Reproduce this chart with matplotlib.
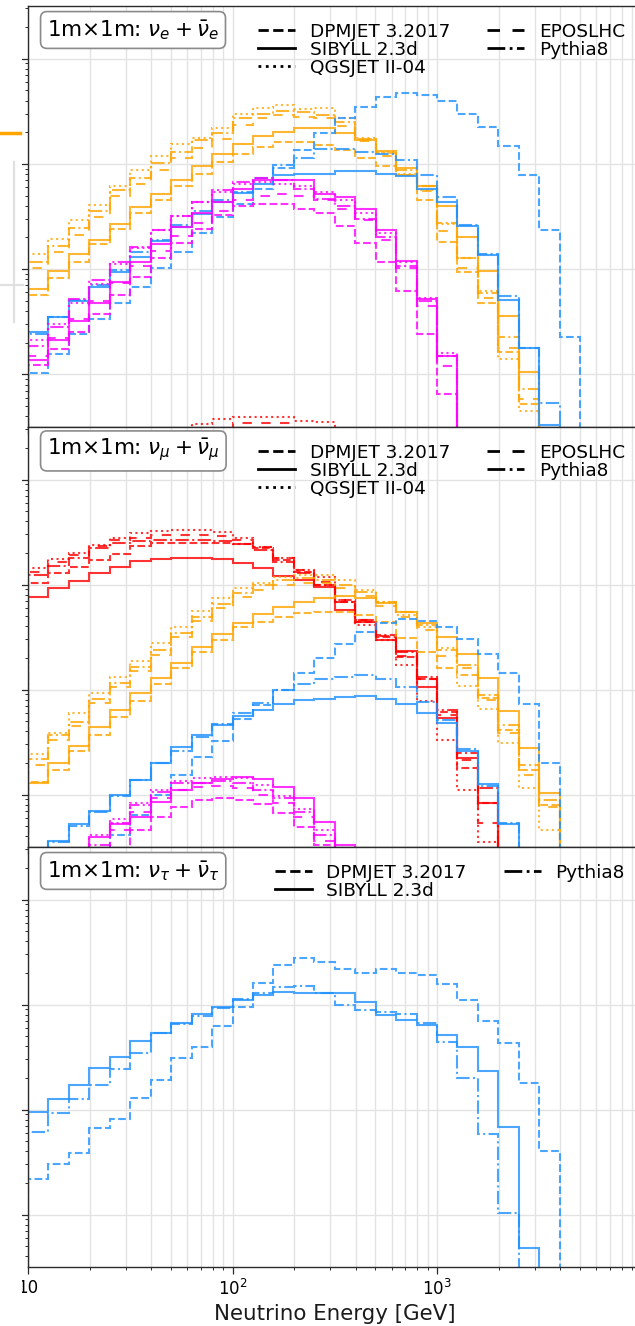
import numpy as np
import matplotlib
matplotlib.use("Agg")
import matplotlib.pyplot as plt
from matplotlib.lines import Line2D
from matplotlib.patches import Rectangle

# Energy binning: ten logarithmic bins per decade, 10 GeV - 10 TeV
bin_edges = np.logspace(1, 4, 31)

generators = ["DPMJET 3.2017", "SIBYLL 2.3d", "QGSJET II-04", "EPOSLHC", "Pythia8"]
line_styles = {
    "DPMJET 3.2017": (0, (3.7, 1.6)),
    "SIBYLL 2.3d": "-",
    "QGSJET II-04": (0, (1.0, 1.65)),
    "EPOSLHC": (0, (4.5, 4.5)),
    "Pythia8": (0, (6.4, 1.6, 1.0, 1.6)),
}
parent_colors = {"pion": "#ff0000", "kaon": "#ffa500",
                 "charm": "#1e90ff", "hyperon": "#ff00ff"}

# Each entry: (first filled bin, per-bin neutrino yield)
# ---------------- nu_e + nu_e-bar ----------------
nue_kaon = {
    "DPMJET 3.2017": (0, [5.7e5, 8.2e5, 1.18e6, 1.73e6, 2.4e6, 3.45e6, 4.5e6, 6.1e6, 8.1e6, 1.04e7,
                          1.24e7, 1.45e7, 1.6e7, 1.6e7, 1.5e7, 1.35e7, 1.13e7, 9.5e6, 7.9e6, 4.5e6,
                          1.8e6, 9.3e5, 4.8e5, 1.64e5, 5.2e4]),
    "SIBYLL 2.3d": (0, [6.5e5, 9.5e5, 1.4e6, 1.9e6, 2.7e6, 3.9e6, 5.2e6, 7.1e6, 9.5e6, 1.23e7,
                        1.55e7, 1.85e7, 2.0e7, 2.2e7, 2.2e7, 1.95e7, 1.7e7, 1.32e7, 9.1e6, 6.2e6,
                        4.0e6, 2.0e6, 9.5e5, 3.6e5, 1.06e5]),
    "QGSJET II-04": (0, [1.4e6, 1.95e6, 2.9e6, 4.1e6, 6.2e6, 8.7e6, 1.18e7, 1.55e7, 1.76e7, 2.2e7,
                         3.0e7, 3.4e7, 3.6e7, 3.35e7, 3.4e7, 2.7e7, 1.76e7, 1.3e7, 8.1e6, 5.6e6,
                         2.7e6, 1.27e6, 6.2e5, 1.4e5, 4.5e4]),
    "EPOSLHC": (0, [1.02e6, 1.45e6, 2.1e6, 3.16e6, 4.9e6, 6.4e6, 8.8e6, 1.13e7, 1.4e7, 1.73e7,
                    2.35e7, 2.7e7, 2.9e7, 2.8e7, 2.7e7, 2.3e7, 1.64e7, 1.18e7, 7.9e6, 5.5e6,
                    2.3e6, 1.02e6, 5.3e5, 1.8e5, 5.8e4]),
    "Pythia8": (0, [1.16e6, 1.67e6, 2.45e6, 3.6e6, 5.6e6, 7.3e6, 1.02e7, 1.3e7, 1.67e7, 1.96e7,
                    2.7e7, 3.0e7, 3.2e7, 3.1e7, 2.9e7, 2.5e7, 1.73e7, 1.27e7, 8.7e6, 6.2e6,
                    2.75e6, 1.27e6, 5.9e5, 2.25e5, 7.3e4]),
}
nue_charm = {
    "DPMJET 3.2017": (0, [1.04e5, 1.57e5, 2.4e5, 3.35e5, 4.8e5, 6.8e5, 1.02e6, 1.45e6, 2.2e6, 3.16e6,
                          4.2e6, 5.8e6, 9.1e6, 1.35e7, 1.96e7, 2.7e7, 3.5e7, 4.3e7, 4.7e7, 4.5e7,
                          3.95e7, 3.0e7, 2.25e7, 1.47e7, 7.8e6, 2.35e6, 2.25e5]),
    "SIBYLL 2.3d": (0, [2.55e5, 3.5e5, 5.0e5, 6.8e5, 9.3e5, 1.3e6, 1.85e6, 2.5e6, 3.35e6, 4.3e6,
                        5.3e6, 6.5e6, 7.8e6, 8.1e6, 8.1e6, 8.5e6, 8.5e6, 8.1e6, 7.6e6, 5.8e6,
                        4.3e6, 2.55e6, 1.35e6, 5.1e5, 1.8e5, 3.3e4]),
    "Pythia8": (0, [2.4e5, 3.5e5, 5.1e5, 7.0e5, 9.8e5, 1.45e6, 1.9e6, 2.6e6, 3.6e6, 4.5e6,
                    5.4e6, 7.3e6, 9.8e6, 1.13e7, 1.38e7, 1.38e7, 1.3e7, 1.23e7, 1.08e7, 7.8e6,
                    4.8e6, 2.6e6, 1.38e6, 5.5e5, 1.8e5, 5.3e4]),
}
nue_hyperon = {
    "DPMJET 3.2017": (0, [1.22e5, 1.75e5, 2.5e5, 3.75e5, 5.7e5, 8.5e5, 1.27e6, 1.78e6, 2.4e6, 3.3e6,
                          3.95e6, 4.2e6, 4.2e6, 3.75e6, 3.4e6, 2.55e6, 1.78e6, 1.16e6, 6.2e5, 2.4e5,
                          6.5e4]),
    "SIBYLL 2.3d": (0, [1.38e5, 2.1e5, 3.2e5, 4.8e5, 7.6e5, 1.16e6, 1.73e6, 2.5e6, 3.45e6, 4.3e6,
                        5.8e6, 7.0e6, 7.1e6, 7.0e6, 5.2e6, 4.8e6, 3.75e6, 2.35e6, 1.2e6, 5.2e5,
                        1.5e5]),
    "QGSJET II-04": (0, [2.1e5, 3.0e5, 4.8e5, 7.3e5, 1.13e6, 1.6e6, 2.35e6, 3.2e6, 4.3e6, 5.4e6,
                         6.4e6, 6.7e6, 6.5e6, 6.1e6, 5.4e6, 4.5e6, 3.45e6, 2.2e6, 1.16e6, 5.3e5,
                         1.6e5]),
    "EPOSLHC": (0, [1.5e5, 2.2e5, 3.35e5, 5.0e5, 7.4e5, 1.08e6, 1.5e6, 2.05e6, 2.75e6, 3.6e6,
                    4.5e6, 5.0e6, 5.2e6, 5.0e6, 4.5e6, 3.75e6, 2.9e6, 1.9e6, 1.02e6, 4.5e5,
                    1.2e5]),
    "Pythia8": (0, [1.85e5, 2.85e5, 5.2e5, 7.8e5, 1.16e6, 1.64e6, 2.35e6, 3.2e6, 4.3e6, 5.6e6,
                    6.7e6, 7.4e6, 7.0e6, 5.8e6, 4.6e6, 4.0e6, 3.0e6, 2.0e6, 1.08e6, 5.0e5,
                    1.5e5]),
}
nue_pion = {
    "QGSJET II-04": (8, [3.4e4, 3.8e4, 3.95e4, 3.95e4, 3.95e4, 3.6e4, 3.5e4]),
    "EPOSLHC": (10, [3.45e4, 3.45e4, 3.45e4]),
}

# ---------------- nu_mu + nu_mu-bar ----------------
numu_pion = {
    "DPMJET 3.2017": (0, [1.04e7, 1.28e7, 1.47e7, 1.7e7, 1.96e7, 2.35e7, 2.5e7, 2.5e7, 2.5e7, 2.5e7,
                          2.45e7, 2.25e7, 1.7e7, 1.32e7, 1.0e7, 6.8e6, 4.4e6, 3.16e6, 2.05e6, 1.25e6,
                          6.1e5, 1.8e5, 8.3e4]),
    "SIBYLL 2.3d": (0, [7.6e6, 9.3e6, 1.09e7, 1.28e7, 1.47e7, 1.67e7, 1.76e7, 1.8e7, 1.8e7, 1.76e7,
                        1.6e7, 1.45e7, 1.2e7, 1.1e7, 9.5e6, 5.7e6, 4.4e6, 2.95e6, 2.35e6, 1.06e6,
                        5.3e5, 2.25e5, 8.3e4]),
    "QGSJET II-04": (0, [1.45e7, 1.76e7, 2.0e7, 2.4e7, 2.8e7, 3.1e7, 3.2e7, 3.3e7, 3.3e7, 3.16e7,
                         2.8e7, 2.3e7, 1.8e7, 1.38e7, 1.18e7, 7.1e6, 4.1e6, 2.95e6, 1.7e6, 7.8e5,
                         3.3e5, 1.1e5, 3.5e4]),
    "EPOSLHC": (0, [1.32e7, 1.64e7, 1.92e7, 2.35e7, 2.65e7, 2.8e7, 2.95e7, 2.95e7, 2.95e7, 2.9e7,
                    2.65e7, 2.3e7, 1.8e7, 1.38e7, 1.06e7, 7.1e6, 4.6e6, 3.2e6, 2.1e6, 1.25e6,
                    5.7e5, 2.15e5, 5.4e4]),
    "Pythia8": (0, [1.23e7, 1.5e7, 1.8e7, 2.25e7, 2.5e7, 2.6e7, 2.65e7, 2.65e7, 2.65e7, 2.6e7,
                    2.45e7, 2.15e7, 1.64e7, 1.3e7, 1.0e7, 6.8e6, 4.6e6, 3.3e6, 2.3e6, 1.32e6,
                    6.4e5, 2.5e5, 1.15e5]),
}
numu_kaon = {
    "DPMJET 3.2017": (0, [1.32e5, 1.7e5, 2.6e5, 3.7e5, 5.5e5, 7.8e5, 1.13e6, 1.6e6, 2.3e6, 2.95e6,
                          3.9e6, 4.4e6, 4.9e6, 5.4e6, 5.5e6, 5.5e6, 5.1e6, 4.4e6, 3.1e6, 2.3e6,
                          1.6e6, 1.38e6, 8.3e5, 4.1e5, 1.7e5, 7.9e4]),
    "SIBYLL 2.3d": (0, [1.3e5, 2.0e5, 2.9e5, 4.4e5, 6.4e5, 9.3e5, 1.3e6, 1.8e6, 2.55e6, 3.4e6,
                        4.3e6, 5.2e6, 6.1e6, 6.8e6, 7.4e6, 7.8e6, 7.4e6, 6.6e6, 5.5e6, 4.3e6,
                        3.16e6, 2.2e6, 1.3e6, 6.2e5, 2.75e5, 1.04e5]),
    "QGSJET II-04": (0, [2.45e5, 3.85e5, 6.0e5, 9.3e5, 1.32e6, 1.85e6, 2.75e6, 3.95e6, 5.6e6, 7.4e6,
                         9.3e6, 1.04e7, 1.18e7, 1.23e7, 1.23e7, 1.1e7, 8.9e6, 6.8e6, 5.1e6, 3.9e6,
                         2.5e6, 1.08e6, 6.5e5, 3.1e5, 1.15e5, 4.6e4]),
    "EPOSLHC": (0, [1.9e5, 3.3e5, 4.5e5, 7.4e5, 1.06e6, 1.5e6, 2.15e6, 3.16e6, 4.5e6, 6.0e6,
                    7.6e6, 8.9e6, 1.0e7, 1.04e7, 1.04e7, 9.3e6, 7.8e6, 6.2e6, 4.9e6, 3.7e6,
                    2.1e6, 1.6e6, 7.9e5, 3.85e5, 1.55e5, 7.6e4]),
    "Pythia8": (0, [2.2e5, 3.7e5, 4.9e5, 8.1e5, 1.16e6, 1.64e6, 2.4e6, 3.45e6, 4.9e6, 6.5e6,
                    8.3e6, 1.0e7, 1.1e7, 1.15e7, 1.1e7, 1.0e7, 8.5e6, 6.8e6, 5.5e6, 4.1e6,
                    2.4e6, 1.7e6, 8.9e5, 4.6e5, 1.9e5, 8.8e4]),
}
numu_charm = {
    "DPMJET 3.2017": (0, [9.0e3, 1.4e4, 2.0e4, 2.9e4, 4.1e4, 6.4e4, 9.9e4, 1.55e5, 2.3e5, 3.2e5,
                          5.2e5, 7.1e5, 1.0e6, 1.45e6, 2.0e6, 2.7e6, 3.5e6, 4.3e6, 4.7e6, 4.5e6,
                          3.95e6, 3.0e6, 2.2e6, 1.45e6, 7.3e5, 2.0e5]),
    "SIBYLL 2.3d": (0, [1.9e4, 3.6e4, 5.2e4, 7.0e4, 9.9e4, 1.38e5, 2.0e5, 2.85e5, 3.7e5, 4.6e5,
                        5.6e5, 6.4e5, 7.3e5, 8.0e5, 8.2e5, 8.5e5, 8.7e5, 8.2e5, 7.3e5, 6.0e5,
                        4.8e5, 2.6e5, 1.25e5, 5.2e4]),
    "Pythia8": (0, [1.9e4, 3.5e4, 5.0e4, 6.8e4, 9.7e4, 1.38e5, 2.0e5, 2.6e5, 3.5e5, 4.7e5,
                    6.0e5, 7.5e5, 1.0e6, 1.13e6, 1.27e6, 1.32e6, 1.38e6, 1.27e6, 1.06e6, 7.6e5,
                    5.1e5, 2.7e5, 1.2e5, 5.3e4]),
}
numu_hyperon = {
    "DPMJET 3.2017": (5, [4.6e4, 6.1e4, 7.6e4, 8.9e4, 9.3e4, 8.9e4, 8.1e4, 6.6e4, 4.9e4, 3.3e4]),
    "SIBYLL 2.3d": (3, [3.95e4, 5.2e4, 6.1e4, 8.5e4, 1.1e5, 1.3e5, 1.4e5, 1.47e5, 1.4e5, 1.18e5,
                        9.3e4, 5.5e4, 3.3e4]),
    "QGSJET II-04": (3, [4.1e4, 5.8e4, 8.3e4, 1.1e5, 1.35e5, 1.45e5, 1.47e5, 1.45e5, 1.22e5, 9.7e4,
                         7.2e4, 4.6e4, 3.1e4]),
    "EPOSLHC": (3, [2.9e4, 4.6e4, 6.8e4, 9.3e4, 1.1e5, 1.18e5, 1.2e5, 1.15e5, 9.9e4, 8.3e4,
                    6.1e4, 3.6e4, 2.4e4]),
    "Pythia8": (3, [3.3e4, 5.4e4, 7.9e4, 1.06e5, 1.3e5, 1.3e5, 1.35e5, 1.3e5, 1.1e5, 9.3e4,
                    6.8e4, 4.1e4, 2.7e4]),
}

# ---------------- nu_tau + nu_tau-bar ----------------
nutau_charm = {
    "DPMJET 3.2017": (0, [2.2e5, 3.0e5, 3.85e5, 6.6e5, 8.1e5, 1.3e6, 1.9e6, 3.1e6, 3.9e6, 6.2e6,
                          9.5e6, 1.6e7, 2.4e7, 2.8e7, 2.55e7, 2.2e7, 2.0e7, 2.2e7, 2.0e7, 1.9e7,
                          1.58e7, 1.1e7, 7.0e6, 4.3e6, 1.8e6, 4.0e5]),
    "SIBYLL 2.3d": (0, [9.5e5, 1.25e6, 1.73e6, 2.5e6, 3.16e6, 4.5e6, 5.4e6, 6.7e6, 8.1e6, 9.5e6,
                        1.1e7, 1.23e7, 1.32e7, 1.28e7, 1.3e7, 1.3e7, 1.06e7, 7.9e6, 7.1e6, 6.4e6,
                        5.1e6, 3.95e6, 2.35e6, 6.8e5, 4.8e4]),
    "Pythia8": (0, [6.1e5, 9.3e5, 1.25e6, 1.73e6, 2.45e6, 3.45e6, 5.4e6, 6.5e6, 7.8e6, 9.3e6,
                    1.13e7, 1.28e7, 1.47e7, 1.5e7, 1.28e7, 1.0e7, 8.9e6, 8.5e6, 8.1e6, 6.7e6,
                    4.4e6, 2.0e6, 5.9e5, 1.04e5]),
}

panels = [
    (r"1m$\times$1m: $\nu_e+\bar{\nu}_e$",
     [("kaon", nue_kaon), ("charm", nue_charm), ("hyperon", nue_hyperon), ("pion", nue_pion)],
     generators),
    (r"1m$\times$1m: $\nu_\mu+\bar{\nu}_\mu$",
     [("pion", numu_pion), ("kaon", numu_kaon), ("charm", numu_charm), ("hyperon", numu_hyperon)],
     generators),
    (r"1m$\times$1m: $\nu_\tau+\bar{\nu}_\tau$",
     [("charm", nutau_charm)],
     ["DPMJET 3.2017", "SIBYLL 2.3d", "Pythia8"]),
]

W, H = 635, 1326
fig = plt.figure(figsize=(W / 100, H / 100), dpi=100)

panel_px = [(6, 427), (427, 847), (847, 1267)]
left_px, right_px = 28, 641.5
grid_color = "#e3e3e3"
spine_color = "#2b2b2b"

axes = []
for (top, bottom), (title, groups, legend_gens) in zip(panel_px, panels):
    ax = fig.add_axes([left_px / W, 1 - bottom / H,
                       (right_px - left_px) / W, (bottom - top) / H])
    ax.set_xscale("log")
    ax.set_yscale("log")
    ax.set_xlim(10, 1e4)
    ax.set_ylim(10 ** 4.5, 10 ** 8.5)
    ax.set_axisbelow(True)
    ax.grid(True, which="major", axis="both", color=grid_color, lw=1.0)
    ax.grid(True, which="minor", axis="x", color=grid_color, lw=1.0)

    for species, series in groups:
        for gen, (start, vals) in series.items():
            edges = bin_edges[start:start + len(vals) + 1]
            ax.stairs(vals, edges, baseline=1.0, color=parent_colors[species],
                      linestyle=line_styles[gen], lw=1.5, alpha=0.8)

    for s in ax.spines.values():
        s.set_color(spine_color)
        s.set_linewidth(1.0)
    ax.tick_params(axis="both", which="major", direction="out", length=5,
                   width=0.9, color=spine_color, labelsize=12)
    ax.tick_params(axis="both", which="minor", direction="out", length=2.5,
                   width=0.7, color=spine_color)
    ax.tick_params(axis="y", which="both", labelleft=False)

    ax.text(0.031, 0.943, title, transform=ax.transAxes, fontsize=15.5,
            ha="left", va="center", zorder=5,
            bbox=dict(boxstyle="round,pad=0.3", fc="white", ec="#8a8a8a", lw=1.2))

    handles = [Line2D([], [], color="black", lw=2.0, ls=line_styles[g]) for g in legend_gens]
    ax.legend(handles, legend_gens, loc="upper right", ncol=2, frameon=False,
              fontsize=13.3, labelspacing=0.0, handlelength=2.0,
              handletextpad=0.8, columnspacing=2.0, borderaxespad=0.5)
    axes.append(ax)

for ax in axes[:-1]:
    ax.tick_params(axis="x", which="both", labelbottom=False)

bottom_ax = axes[-1]
bottom_ax.set_xticks([10, 100, 1000], ["10", r"$10^2$", r"$10^3$"])
bottom_ax.set_xlabel("Neutrino Energy [GeV]", fontsize=15.4, color="#1a1a1a")

# neighbouring panel edge on the left side of the canvas
fig.add_artist(Rectangle((0, 0), 21.5 / W, 1, transform=fig.transFigure,
                         fc="white", ec="none", zorder=10))
fig.add_artist(Line2D([0, 20 / W], [1 - 133 / H] * 2, transform=fig.transFigure,
                      color="#ffa500", lw=2.5, zorder=11))
fig.add_artist(Line2D([14 / W, 14 / W], [1 - 162 / H, 1 - 322 / H], transform=fig.transFigure,
                      color="#e0e0e0", lw=1.6, zorder=11))
fig.add_artist(Line2D([0, 23 / W], [1 - 285 / H] * 2, transform=fig.transFigure,
                      color="#e0e0e0", lw=1.6, zorder=11))

fig.savefig("out.png", dpi=100)
